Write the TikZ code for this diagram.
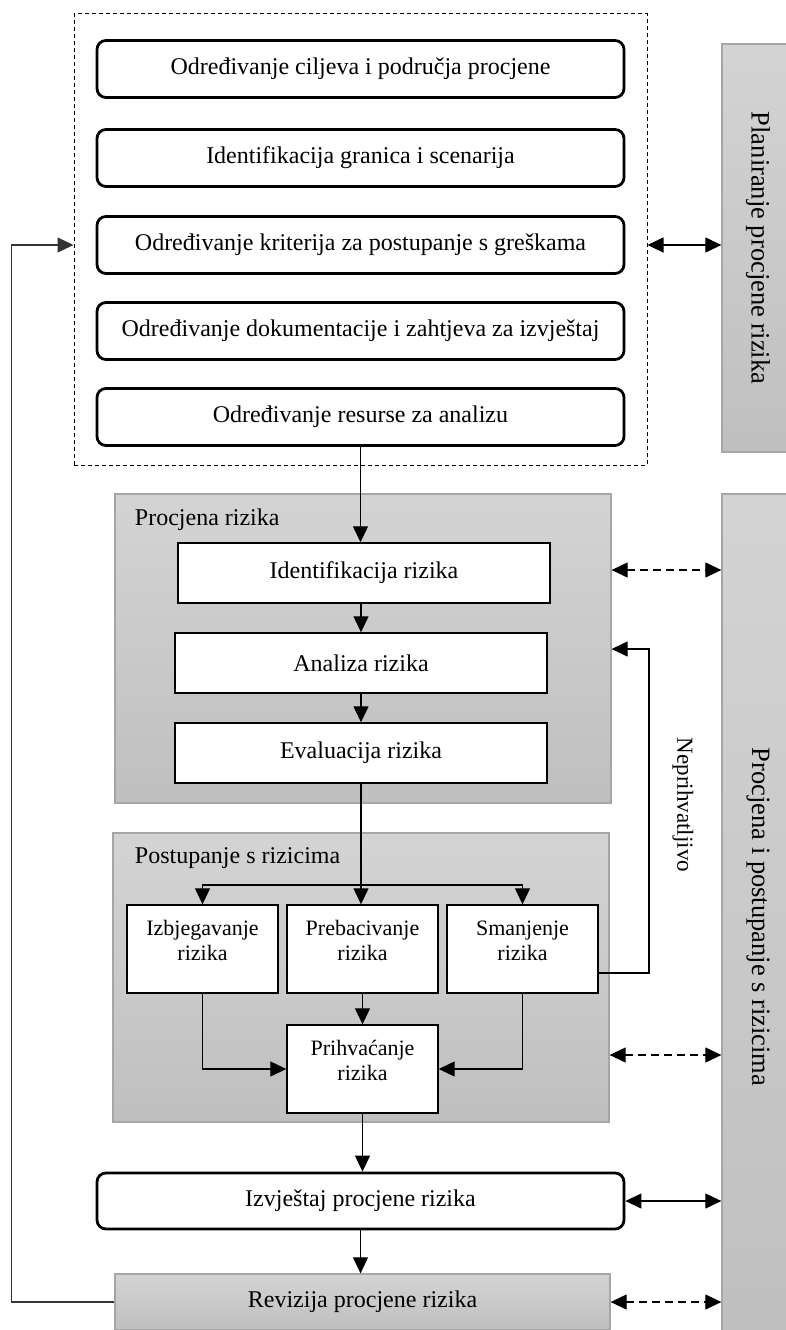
\documentclass[tikz,border=0pt]{standalone}
\usepackage{fontspec}
\setmainfont{Liberation Serif}
\usetikzlibrary{arrows.meta}

\begin{document}
\begin{tikzpicture}[x=1pt,y=-1pt,>={Triangle[length=16pt,width=15pt]},line width=1.2pt,
  roundbox/.style={draw,line width=2.8pt,rounded corners=9pt,minimum width=527pt,minimum height=57pt,font=\fontsize{24}{28}\selectfont},
  whitebox/.style={draw,fill=white,line width=1.4pt,minimum width=372pt,minimum height=60pt,font=\fontsize{24}{28}\selectfont},
  smallbox/.style={draw,fill=white,line width=1.4pt,minimum width=151pt,minimum height=88pt,align=center,font=\fontsize{22}{25}\selectfont},
  graybox/.style={draw=gray!70,line width=1.3pt,top color=gray!34,bottom color=gray!50},
  sidebox/.style={graybox,rotate=-90,minimum height=72pt,font=\fontsize{26.5}{30}\selectfont},
  grouplabel/.style={anchor=west,font=\fontsize{24}{28}\selectfont},
  dashlink/.style={<->,dash pattern=on 8pt off 5pt}]
\useasboundingbox (0,0) rectangle (786,1330);

\node[draw,dash pattern=on 4pt off 3pt,line width=1pt,minimum width=573pt,minimum height=451pt] (planframe) at (360.5,239.5) {};
\node[roundbox] (goals) at (360.5,69) {Određivanje ciljeva i područja procjene};
\node[roundbox] (bounds) at (360.5,158) {Identifikacija granica i scenarija};
\node[roundbox] (criteria) at (360.5,245) {Određivanje kriterija za postupanje s greškama};
\node[roundbox] (docs) at (360.5,331) {Određivanje dokumentacije i zahtjeva za izvještaj};
\node[roundbox] (resources) at (360.5,417) {Određivanje resurse za analizu};
\node[sidebox,minimum width=408pt] (planside) at (758,248) {Planiranje procjene rizika};

\node[graybox,minimum width=496pt,minimum height=309pt] (assessarea) at (363,648.5) {};
\node[grouplabel] (assesslabel) at (131,520) {Procjena rizika};
\node[whitebox] (identify) at (364,573) {Identifikacija rizika};
\node[whitebox] (analyse) at (361,663) {Analiza rizika};
\node[whitebox] (evaluate) at (361,753) {Evaluacija rizika};

\node[graybox,minimum width=496pt,minimum height=289pt] (treatarea) at (361,977.5) {};
\node[grouplabel] (treatlabel) at (131,858) {Postupanje s rizicima};
\node[smallbox] (avoid) at (202.5,949) {Izbjegavanje\\rizika\\[-8pt]\mbox{}};
\node[smallbox] (transfer) at (362.5,949) {Prebacivanje\\rizika\\[-8pt]\mbox{}};
\node[smallbox] (reduce) at (522.5,949) {Smanjenje\\rizika\\[-8pt]\mbox{}};
\node[smallbox] (accept) at (362.5,1069) {Prihvaćanje\\rizika\\[-8pt]\mbox{}};

\node[roundbox,minimum height=56pt] (report) at (360.5,1201) {Izvještaj procjene rizika};
\node[graybox,minimum width=495pt,minimum height=56pt,font=\fontsize{24}{28}\selectfont] (review) at (362.5,1302) {Revizija procjene rizika};
\node[sidebox,minimum width=846pt] (bigside) at (758,917) {Procjena i postupanje s rizicima};
\node[rotate=-90,font=\fontsize{23}{27}\selectfont] (rejectlabel) at (683,805) {Neprihvatljivo};

\coordinate (split) at (362,885);
\coordinate (reject) at (649,649);

\draw[->] (resources.south) -- (resources.south |- identify.north);
\draw[->] (identify.south -| analyse) -- (analyse);
\draw[->] (analyse) -- (evaluate);
\draw[->] (evaluate.south) -- (evaluate.south |- transfer.north);
\draw[->] (split) -| (avoid.north);
\draw[->] (split) -| (reduce.north);
\draw[->] (avoid.south) |- (accept.west);
\draw[->] (reduce.south) |- (accept.east);
\draw[->] (transfer) -- (accept);
\draw[->] (accept.south) -- (accept.south |- report.north);
\draw[->] (report.south) -- (report.south |- review.north);
\draw[->,draw=black!80] (review.west) -- ++(-103,0) |- (planframe.west |- criteria);
\draw[->] ([yshift=-24pt]reduce.east) -| (reject) -- (reject -| assessarea.east);

\draw[<->] (planframe.east |- criteria) -- (planside.south |- criteria);
\draw[dashlink] (assessarea.east |- 0,570) -- (bigside.south |- 0,570);
\draw[dashlink] (treatarea.east |- 0,1055) -- (bigside.south |- 0,1055);
\draw[<->] (report.east) -- (report.east -| bigside.south);
\draw[dashlink] (review.east) -- (review.east -| bigside.south);
\end{tikzpicture}
\end{document}
